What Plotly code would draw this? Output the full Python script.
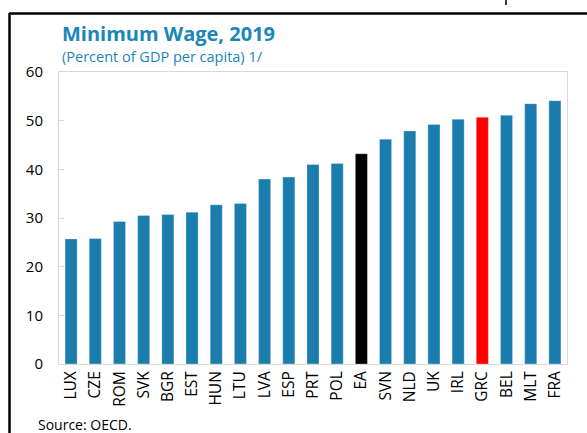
import plotly.graph_objects as go

countries = ["LUX", "CZE", "ROM", "SVK", "BGR", "EST", "HUN", "LTU", "LVA", "ESP", "PRT",
             "POL", "EA", "SVN", "NLD", "UK", "IRL", "GRC", "BEL", "MLT", "FRA"]
values = [25.7, 25.8, 29.3, 30.5, 30.7, 31.2, 32.7, 33.0, 38.0, 38.4, 41.0,
          41.2, 43.2, 46.2, 47.9, 49.2, 50.3, 50.7, 51.1, 53.5, 54.1]
highlight = {"EA": "#000000", "GRC": "#FF0000"}
base_color = "#1A7DAE"
colors = [highlight.get(c, base_color) for c in countries]

W, H = 587, 433
L, R, T, B = 59, 20, 72, 69
pw, ph = W - L - R, H - T - B


def px(x):
    return (x - L) / pw


def py(y):
    return (H - B - y) / ph


fig = go.Figure(go.Bar(
    x=countries, y=values, marker=dict(color=colors, line=dict(color="rgba(255,255,255,0.6)", width=0.5)),
    width=0.5,
))

font_family = "Open Sans, Noto Sans, sans-serif"
fig.update_layout(
    width=W, height=H, margin=dict(l=L, r=R, t=T, b=B),
    paper_bgcolor="white", plot_bgcolor="white",
    showlegend=False, bargap=0.5,
    font=dict(family=font_family, size=15, color="#000000"),
    xaxis=dict(showline=True, linecolor="#d9d9d9", linewidth=1, mirror=True,
               tickangle=-90, showgrid=False, ticks="", tickfont=dict(size=15.5)),
    yaxis=dict(range=[0, 60], dtick=10, showline=True, linecolor="#d9d9d9", linewidth=1, mirror=True,
               showgrid=False, zeroline=False, ticks="inside", ticklen=5, tickcolor="#d9d9d9",
               tickfont=dict(size=15), ticklabelstandoff=12),
    shapes=[
        dict(type="line", xref="paper", yref="paper", x0=px(9), x1=px(587), y0=py(13.5), y1=py(13.5),
             line=dict(color="black", width=2.5)),
        dict(type="line", xref="paper", yref="paper", x0=px(9.5), x1=px(9.5), y0=py(13), y1=py(433),
             line=dict(color="black", width=2.5)),
        dict(type="line", xref="paper", yref="paper", x0=px(506), x1=px(506), y0=py(0), y1=py(5),
             line=dict(color="black", width=1.5)),
    ],
    annotations=[
        dict(text="<b>Minimum Wage, 2019</b>", xref="paper", yref="paper", x=px(60), y=py(33),
             xanchor="left", yanchor="middle", showarrow=False,
             font=dict(size=20, color="#1A86BA", family=font_family)),
        dict(text="(Percent of GDP per capita) 1/", xref="paper", yref="paper", x=px(60), y=py(56),
             xanchor="left", yanchor="middle", showarrow=False,
             font=dict(size=14.5, color="#1A86BA", family=font_family)),
        dict(text="Source: OECD.", xref="paper", yref="paper", x=px(36), y=py(424),
             xanchor="left", yanchor="middle", showarrow=False,
             font=dict(size=14, color="#000000", family=font_family)),
    ],
)

fig.write_html("out.html", config={"displayModeBar": False},
               post_script="document.body.style.margin='0';document.body.style.overflow='hidden';")
